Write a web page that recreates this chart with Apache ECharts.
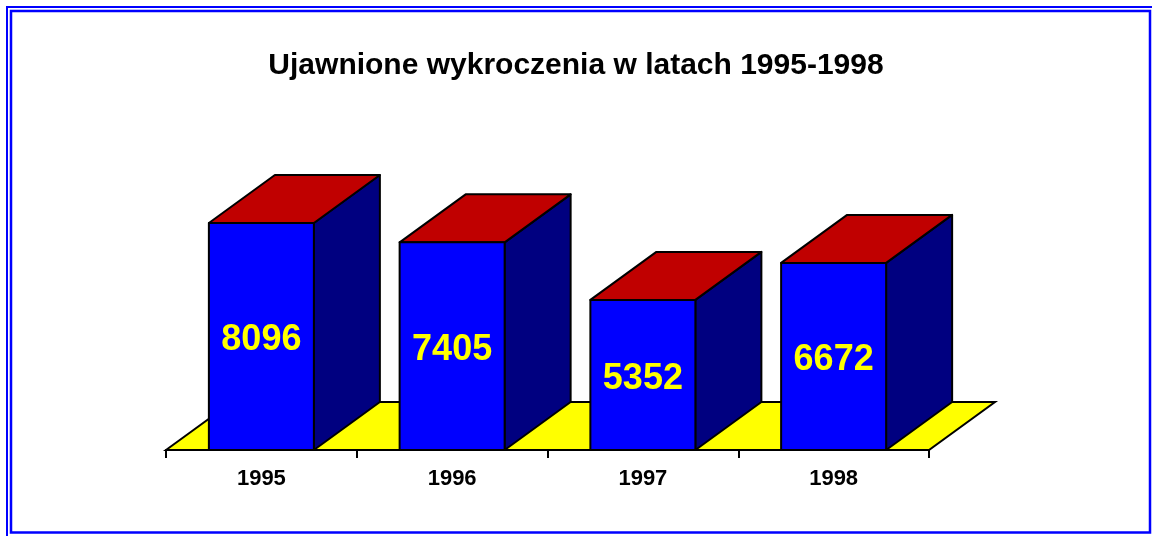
<!DOCTYPE html>
<html>
<head>
<meta charset="utf-8">
<title>Ujawnione wykroczenia</title>
<script src="https://cdn.jsdelivr.net/npm/echarts@6/dist/echarts.min.js"></script>
<style>
  html, body { margin: 0; padding: 0; background: #fff; }
  #main { width: 1152px; height: 536px; }
</style>
</head>
<body>
<div id="main"></div>
<script>
// dane z wykresu
var years = ['1995', '1996', '1997', '1998']
var offences = [8096, 7405, 5352, 6672]

var DX = 66, DY = 48   // glebokosc "3D"

var myChart = echarts.init(document.getElementById('main'))

function renderFloor(params, api) {
  var bw = api.size([1, 0])[0]
  var first = api.coord([0, 0])
  var last = api.coord([years.length - 1, 0])
  var x0 = first[0] - bw / 2, x1 = last[0] + bw / 2, y = first[1]
  return {
    type: 'polygon',
    shape: { points: [[x0, y], [x0 + DX, y - DY], [x1 + DX, y - DY], [x1, y]] },
    style: { fill: '#ffff00', stroke: '#000', lineWidth: 2 }
  }
}

function renderBar(params, api) {
  var top = api.coord([api.value(0), api.value(1)])
  var base = api.coord([api.value(0), 0])
  var w = 105
  var x0 = top[0] - w / 2, x1 = top[0] + w / 2
  var yt = top[1], yb = base[1]
  var line = { stroke: '#000', lineWidth: 2, lineJoin: 'round' }
  return {
    type: 'group',
    children: [
      {
        type: 'polygon',
        shape: { points: [[x1, yt], [x1 + DX, yt - DY], [x1 + DX, yb - DY], [x1, yb]] },
        style: Object.assign({ fill: '#000080' }, line)
      },
      {
        type: 'polygon',
        shape: { points: [[x0, yt], [x0 + DX, yt - DY], [x1 + DX, yt - DY], [x1, yt]] },
        style: Object.assign({ fill: '#c00000' }, line)
      },
      {
        type: 'rect',
        shape: { x: x0, y: yt, width: w, height: yb - yt },
        style: Object.assign({ fill: '#0000ff' }, line)
      },
      {
        type: 'text',
        x: top[0],
        y: (yt + yb) / 2 + 4,
        style: {
          text: String(api.value(1)),
          fill: '#ffff00',
          font: 'bold 36px "Liberation Sans", Arial, sans-serif',
          align: 'center',
          verticalAlign: 'middle'
        }
      }
    ]
  }
}

var option = {
  animation: false,
  title: {
    text: 'Ujawnione wykroczenia w latach 1995-1998',
    left: 'center',
    top: 46,
    textStyle: {
      fontFamily: '"Liberation Sans", Arial, sans-serif',
      fontWeight: 'bold',
      fontSize: 30,
      color: '#000'
    }
  },
  graphic: [
    { type: 'rect', shape: { x: 7, y: 7, width: 1160, height: 545 }, style: { fill: 'none', stroke: '#0000ff', lineWidth: 2 } },
    { type: 'rect', shape: { x: 11, y: 11, width: 1139, height: 521.5 }, style: { fill: 'none', stroke: '#0000ff', lineWidth: 2.5 } }
  ],
  grid: { left: 166, right: 223, top: 169.6, bottom: 86 },
  xAxis: {
    type: 'category',
    data: years,
    z: 5,
    axisLine: { show: true, lineStyle: { color: '#000', width: 2 } },
    axisTick: { show: true, alignWithLabel: false, interval: 0, length: 8, lineStyle: { color: '#000', width: 2 } },
    axisLabel: {
      margin: 18,
      color: '#000',
      fontFamily: '"Liberation Sans", Arial, sans-serif',
      fontWeight: 'bold',
      fontSize: 22
    }
  },
  yAxis: { type: 'value', min: 0, max: 10000, show: false },
  series: [
    { type: 'custom', renderItem: renderFloor, data: [[0, 0]], z: 2, silent: true },
    {
      type: 'custom',
      renderItem: renderBar,
      data: years.map(function (y, i) { return [i, offences[i]] }),
      z: 3
    }
  ]
}

myChart.setOption(option)
</script>
</body>
</html>
